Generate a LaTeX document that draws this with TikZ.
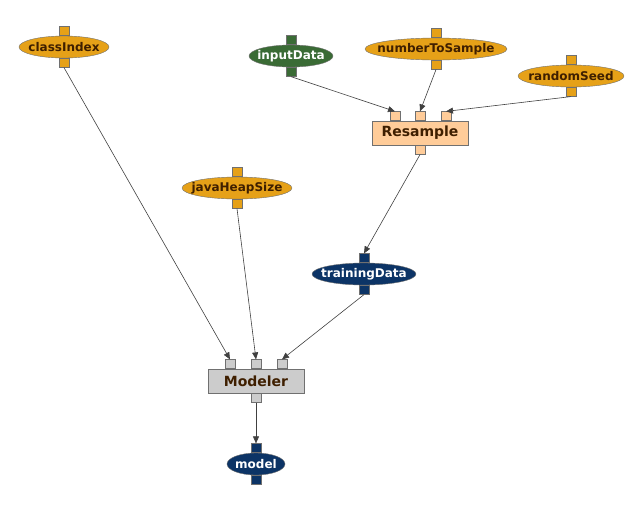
\documentclass[tikz,border=0pt]{standalone}
\usepackage{fontspec}
\setmainfont{DejaVu Sans}
\usetikzlibrary{shapes.geometric,arrows.meta}
\definecolor{paramorange}{HTML}{E6A118}
\definecolor{datagreen}{HTML}{3A6B35}
\definecolor{datanavy}{HTML}{0C3466}
\definecolor{taskpeach}{HTML}{FFCC99}
\definecolor{taskgray}{HTML}{CCCCCC}
\definecolor{labelbrown}{HTML}{3F1F00}
\definecolor{edgegray}{HTML}{707070}
\definecolor{linkgray}{HTML}{404040}
\begin{document}
\begin{tikzpicture}[x=1pt,y=-1pt,
  blob/.style={ellipse,draw=edgegray,minimum height=22pt,inner xsep=-12pt,inner ysep=0pt,
    font=\bfseries\fontsize{12}{14}\selectfont},
  param/.style={blob,fill=paramorange,text=labelbrown,minimum width=#1},
  data/.style={blob,fill=#1,text=white},
  task/.style={rectangle,draw=edgegray,fill=#1,text=labelbrown,minimum width=96pt,
    minimum height=24pt,inner sep=0pt,font=\bfseries\fontsize{14}{16}\selectfont},
  port/.style={rectangle,draw=edgegray,fill=#1,minimum width=10pt,minimum height=9pt,inner sep=0pt},
  link/.style={draw=linkgray,line width=0.6pt,-{Triangle[length=7pt,width=6pt]}}
]
\useasboundingbox (0,0) rectangle (643,512);

% parameters
\node [param=90pt] (ci) at (64,47) {classIndex};
\node [port=paramorange,anchor=south] (ci-in) at (ci.north) {};
\node [port=paramorange,anchor=north] (ci-out) at (ci.south) {};

\node [param=142pt] (nts) at (436,49) {numberToSample};
\node [port=paramorange,anchor=south] (nts-in) at (nts.north) {};
\node [port=paramorange,anchor=north] (nts-out) at (nts.south) {};

\node [param=106pt] (rs) at (571,76) {randomSeed};
\node [port=paramorange,anchor=south] (rs-in) at (rs.north) {};
\node [port=paramorange,anchor=north] (rs-out) at (rs.south) {};

\node [param=110pt] (jhs) at (237,188) {javaHeapSize};
\node [port=paramorange,anchor=south] (jhs-in) at (jhs.north) {};
\node [port=paramorange,anchor=north] (jhs-out) at (jhs.south) {};

% data
\node [data=datagreen,minimum width=84pt] (id) at (291,56) {inputData};
\node [port=datagreen,anchor=south] (id-in) at (id.north) {};
\node [port=datagreen,anchor=north] (id-out) at (id.south) {};

\node [data=datanavy,minimum width=104pt] (td) at (364,274) {trainingData};
\node [port=datanavy,anchor=south] (td-in) at (td.north) {};
\node [port=datanavy,anchor=north] (td-out) at (td.south) {};

\node [data=datanavy,minimum width=58pt] (mo) at (256,464) {model};
\node [port=datanavy,anchor=south] (mo-in) at (mo.north) {};
\node [port=datanavy,anchor=north] (mo-out) at (mo.south) {};

% tasks
\node [task=taskpeach] (resample) at (420,133) {Resample};
\node [port=taskpeach,anchor=south] (resample-in1) at ([xshift=-25pt]resample.north) {};
\node [port=taskpeach,anchor=south] (resample-in2) at (resample.north) {};
\node [port=taskpeach,anchor=south] (resample-in3) at ([xshift=26pt]resample.north) {};
\node [port=taskpeach,anchor=north] (resample-out) at (resample.south) {};

\node [task=taskgray] (modeler) at (256,381) {Modeler};
\node [port=taskgray,anchor=south] (modeler-in1) at ([xshift=-26pt]modeler.north) {};
\node [port=taskgray,anchor=south] (modeler-in2) at (modeler.north) {};
\node [port=taskgray,anchor=south] (modeler-in3) at ([xshift=26pt]modeler.north) {};
\node [port=taskgray,anchor=north] (modeler-out) at (modeler.south) {};

% links
\draw [link] (id-out.south) -- (resample-in1.north);
\draw [link] (nts-out.south) -- (resample-in2.north);
\draw [link] (rs-out.south) -- (resample-in3.north);
\draw [link] (resample-out.south) -- (td-in.north);
\draw [link] (ci-out.south) -- (modeler-in1.north);
\draw [link] (jhs-out.south) -- (modeler-in2.north);
\draw [link] (td-out.south) -- (modeler-in3.north);
\draw [link] (modeler-out.south) -- (mo-in.north);
\end{tikzpicture}
\end{document}
